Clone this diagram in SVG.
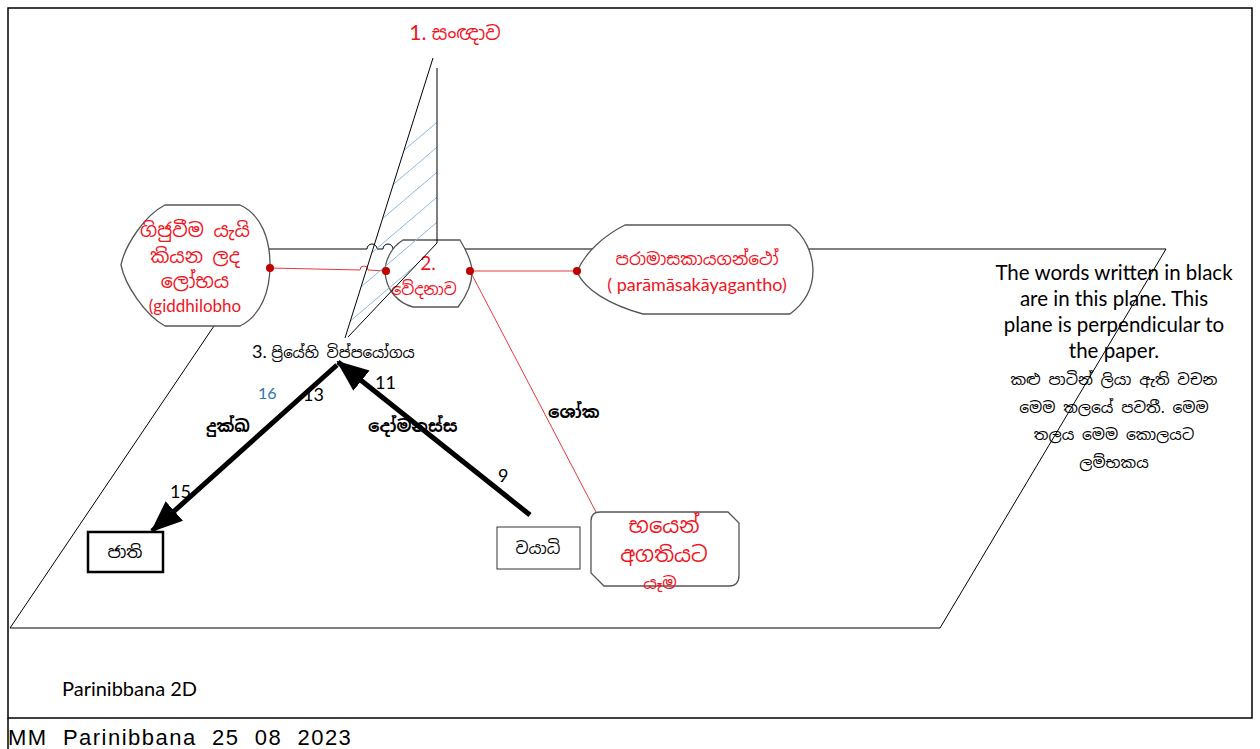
<svg xmlns="http://www.w3.org/2000/svg" width="1260" height="749" viewBox="0 0 1260 749">
  <style>
    .frame { fill: none; stroke: #000; stroke-width: 1.5; }
    .thin { fill: none; stroke: #000; stroke-width: 1; }
    .node { fill: #fff; stroke: #555; stroke-width: 1.3; }
    .red { fill: none; stroke: #e8383d; stroke-width: 1; }
    .dot { fill: #c00000; }
    .hatch { stroke: #8fb8dd; stroke-width: 1; }
    .arrow { fill: none; stroke: #000; stroke-width: 5; }
    .si { font-family: "Noto Sans Sinhala", "Iskoola Pota", "Noto Sans", "DejaVu Sans", sans-serif; }
    .cal { font-family: Lato, "Open Sans", "Liberation Sans", sans-serif; }
    .rt { fill: #f0141e; }
    .bk { fill: #000; }
    .mid { text-anchor: middle; }
    .b { font-weight: bold; }
  </style>
  <defs>
    <marker id="head" viewBox="0 0 32 26" refX="30" refY="13" markerWidth="32" markerHeight="26" markerUnits="userSpaceOnUse" orient="auto">
      <path d="M0,0 L32,13 L0,26 Z" fill="#000"/>
    </marker>
    <clipPath id="triClip">
      <polygon points="433,58 437,58 437,243 348,337 345,338"/>
    </clipPath>
  </defs>

  <!-- page border and footer rule -->
  <rect class="frame" x="8" y="8" width="1244" height="710"/>
  <line class="frame" x1="8" y1="718" x2="8" y2="749"/>

  <!-- the plane (parallelogram) with line jumps over the triangle -->
  <g id="plane">
    <path class="thin" d="M266,249 L367,249 a5,5 0 0 1 10,0 L383,249 a5,5 0 0 1 10,0 L1166,249 L940,628 L10,628 Z"/>
  </g>

  <!-- connectors -->
  <g id="connectors">
    <path class="red" d="M270,268 L360,270 a4,4 0 0 1 8,0 L386,271"/>
    <line class="red" x1="470" y1="271" x2="577" y2="271"/>
    <line class="red" x1="470" y1="271" x2="596" y2="512"/>
    <line class="arrow" x1="337" y1="365" x2="152" y2="531" marker-end="url(#head)"/>
    <line class="arrow" x1="530" y1="515" x2="338" y2="362" marker-end="url(#head)"/>
  </g>

  <!-- node: greed -->
  <g id="lobha">
    <path class="node" d="M165,205 L240,205 C262,215 270,240 270,265 C270,290 262,315 240,326 L165,326 C145,315 125,285 121,265 C125,245 145,215 165,205 Z"/>
    <g class="si rt mid" font-size="19">
      <text x="195" y="237">ගිජුවීම යැයි</text>
      <text x="195" y="263">කියන ලද</text>
      <text x="195" y="288">ලෝභය</text>
    </g>
    <text class="cal rt mid" x="195" y="312" font-size="17">(giddhilobho</text>
  </g>

  <!-- node: feeling -->
  <g id="vedana">
    <path class="node" d="M403,240 L460,240 C466,250 472,262 472,272 C472,285 465,298 458,307 L413,307 C398,303 386,290 385,272 C385,262 390,248 403,240 Z"/>
    <text class="cal rt mid" x="428" y="270" font-size="19">2.</text>
    <text class="si rt mid" x="424" y="295" font-size="16">වේදනාව</text>
  </g>

  <!-- node: paramasa -->
  <g id="paramasa">
    <path class="node" d="M625,225 L790,225 C805,235 813,255 813,270 C813,288 805,303 790,314 L643,314 C610,305 585,290 577,272 C585,252 605,235 625,225 Z"/>
    <text class="si rt mid" x="697" y="265" font-size="17">පරාමාසකායගන්ථෝ</text>
    <text class="cal rt mid" x="697" y="291" font-size="18">( parāmāsakāyagantho)</text>
  </g>

  <!-- node: going astray through fear -->
  <g id="bhaya">
    <path class="node" d="M600,512 L728,512 L739,523 L739,575 Q739,586 729,586 L604,586 L591,573 L591,521 Q591,512 600,512 Z"/>
    <g class="si rt mid" font-size="21">
      <text x="664" y="533">භයෙන්</text>
      <text x="664" y="562">අගතියට</text>
      <text x="660" y="589" font-size="17">යෑම</text>
    </g>
  </g>

  <!-- node: birth -->
  <g id="jati">
    <rect x="88" y="532" width="75" height="40" fill="#fff" stroke="#000" stroke-width="2.5"/>
    <text class="si bk mid" x="125" y="558" font-size="17">ජාති</text>
  </g>

  <!-- node: sickness -->
  <g id="vyadhi">
    <rect x="497" y="527" width="83" height="42" fill="#fff" stroke="#333" stroke-width="1"/>
    <text class="si bk mid" x="538" y="554" font-size="16">වයාධි</text>
  </g>

  <!-- the perception plane (triangle) with hatching -->
  <g id="sanna">
    <g clip-path="url(#triClip)">
      <g class="hatch">
        <line x1="537" y1="37" x2="287" y2="250"/>
        <line x1="537" y1="62" x2="287" y2="275"/>
        <line x1="537" y1="87" x2="287" y2="300"/>
        <line x1="537" y1="112" x2="287" y2="325"/>
        <line x1="537" y1="137" x2="287" y2="350"/>
        <line x1="537" y1="162" x2="287" y2="375"/>
        <line x1="537" y1="187" x2="287" y2="400"/>
        <line x1="537" y1="212" x2="287" y2="425"/>
        <line x1="537" y1="237" x2="287" y2="450"/>
        <line x1="537" y1="262" x2="287" y2="475"/>
      </g>
    </g>
    <path class="thin" d="M433,58 L345,338 M437,68 L437,243 L348,337"/>
    <text class="cal rt mid" x="455" y="40" font-size="21"><tspan>1. </tspan><tspan class="si" font-size="19">සංඥාව</tspan></text>
  </g>

  <!-- dots on the red links -->
  <g id="dots">
    <circle class="dot" cx="270" cy="268" r="4"/>
    <circle class="dot" cx="386" cy="271" r="4"/>
    <circle class="dot" cx="470" cy="271" r="4"/>
    <circle class="dot" cx="577" cy="271" r="4"/>
  </g>

  <!-- labels in the plane -->
  <g id="labels">
    <text class="cal bk" x="252" y="358" font-size="18">3. <tspan class="si" font-size="15">ප්‍රියේහි විප්පයෝගය</tspan></text>
    <text class="cal" x="258" y="399" font-size="16" fill="#2e75b6">16</text>
    <text class="cal bk" x="303" y="401" font-size="18">13</text>
    <text class="cal bk" x="375" y="389" font-size="18">11</text>
    <text class="cal bk" x="498" y="482" font-size="18">9</text>
    <text class="cal bk" x="170" y="498" font-size="18">15</text>
    <text class="si bk b" x="206" y="432" font-size="17">දුක්ඛ</text>
    <text class="si bk b" x="368" y="432" font-size="17">දෝමනස්ස</text>
    <text class="si bk b" x="548" y="418" font-size="17">ශෝක</text>
  </g>

  <!-- explanatory note -->
  <g id="note" class="mid">
    <g class="cal bk" font-size="20.5">
      <text x="1114" y="280">The words written in black</text>
      <text x="1114" y="306">are in this plane. This</text>
      <text x="1114" y="332">plane is perpendicular to</text>
      <text x="1114" y="358">the paper.</text>
    </g>
    <g class="si bk" font-size="15.5">
      <text x="1114" y="385">කළු පාටින් ලියා ඇති වචන</text>
      <text x="1114" y="413">මෙම තලයේ පවතී. මෙම</text>
      <text x="1114" y="440">තලය මෙම කොලයට</text>
      <text x="1114" y="468">ලම්භකය</text>
    </g>
  </g>

  <text class="cal bk" x="62" y="696" font-size="20">Parinibbana 2D</text>
  <text x="8" y="745" font-family="Liberation Sans, Arial, sans-serif" font-size="22" letter-spacing="1.5" xml:space="preserve">MM  Parinibbana  25  08  2023</text>
</svg>
